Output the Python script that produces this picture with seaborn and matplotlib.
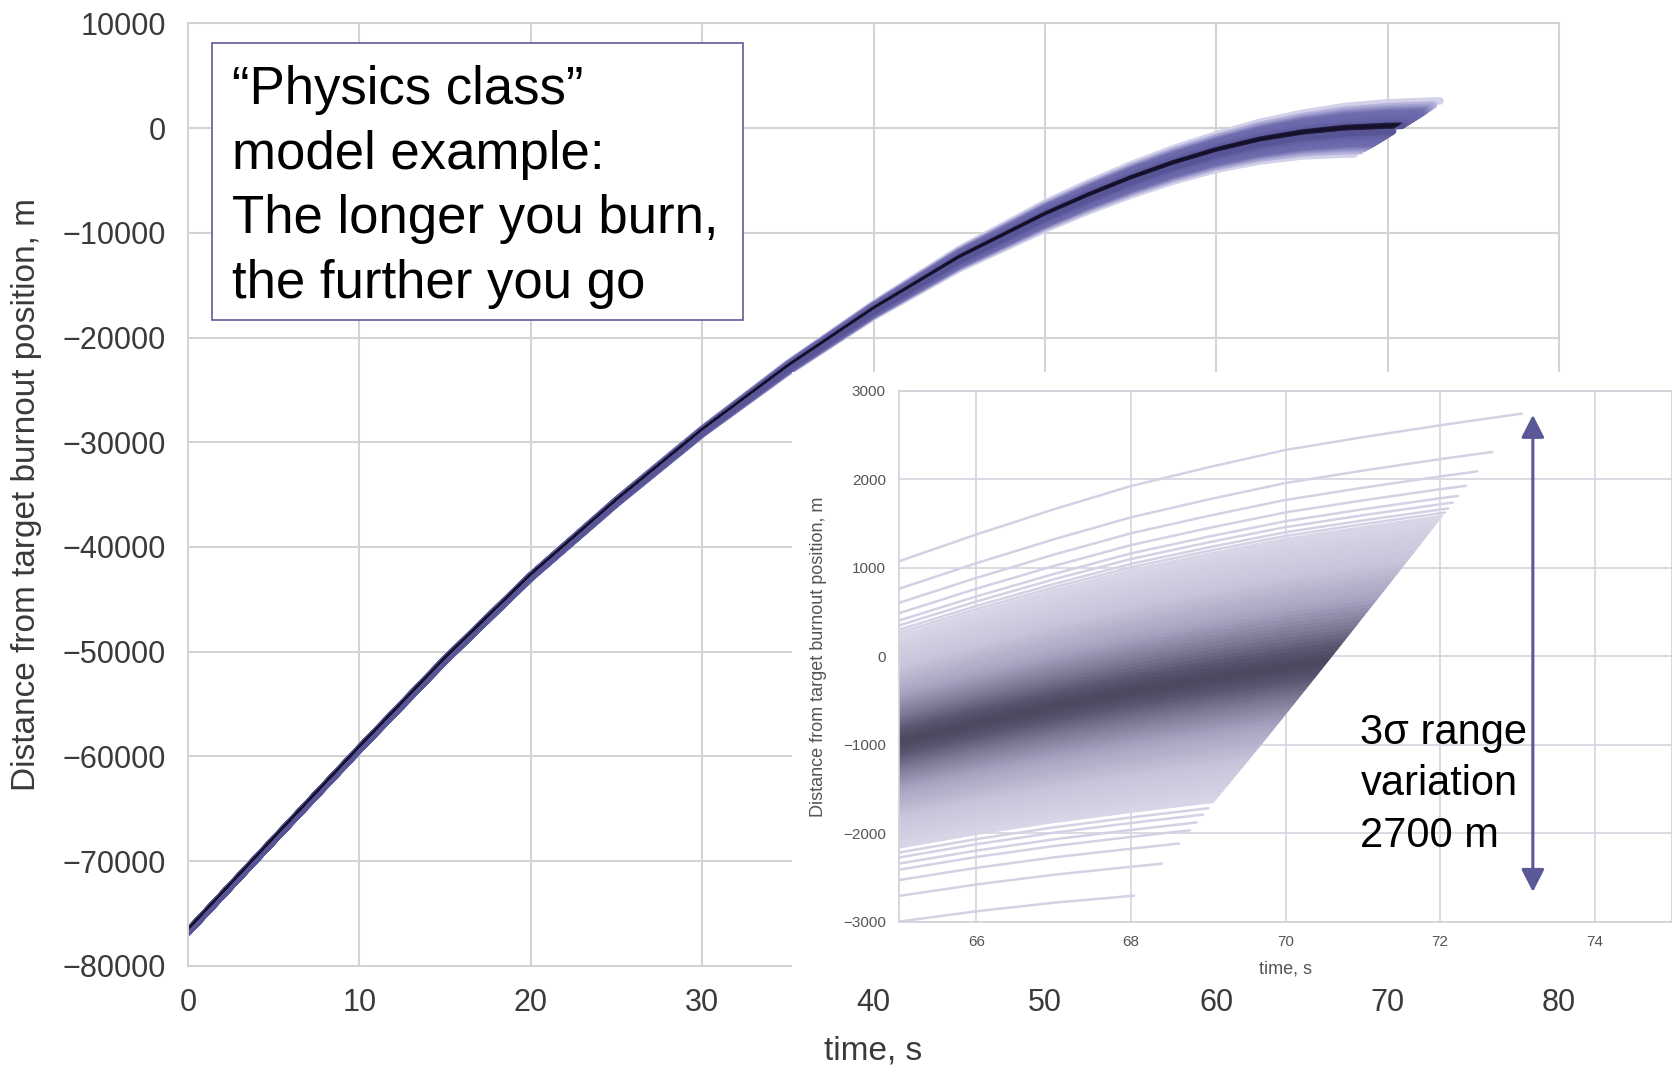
import numpy as np
import pandas as pd
import matplotlib
matplotlib.use("Agg")
import matplotlib.pyplot as plt
from matplotlib.colors import LinearSegmentedColormap
from matplotlib.patches import Rectangle
import seaborn as sns

# ---------------- data ----------------
# ensemble band centre in the main panel (distance from target burnout position, m)
mean_time = [0, 5, 10, 15, 20, 25, 30, 35, 40, 45, 50, 52.5, 55, 57.5,
             60, 62.5, 65, 67.5, 70, 72.5, 75]
mean_distance = [-76750, -68000, -59300, -50800, -42850, -35700, -28990, -22900,
                 -17400, -12500, -8400, -6600, -4950, -3500, -2280, -1300,
                 -620, -200, -20, 60, 100]
# the dark densest runs sit this far above the band centre in the main panel (m)
dense_core_offset = 250
# ensemble centre as read in the zoomed inset
inset_mean_time = [63, 64, 65, 66, 67, 68, 69, 70, 71, 72, 73, 74]
inset_mean_distance = [-1420, -1180, -960, -750, -560, -390, -245, -115, 0, 105, 200, 285]
# 1-sigma spread of the ensemble around the centre (m)
spread_time = [0, 10, 20, 30, 40, 50, 60, 65, 68, 70, 73, 75]
spread_sigma = [0, 15, 40, 85, 210, 420, 560, 690, 785, 830, 860, 870]
# burnout time of the nominal run and its 1-sigma variation (s)
burnout_time_nominal = 70.55
burnout_time_sigma = 0.85
# distinct outer Monte-Carlo runs (sigma position of each run)
outer_runs_z = [-2.95, -2.53, -2.27, -2.1, -2.0, -1.9, -1.82,
                1.78, 1.83, 1.9, 1.98, 2.1, 2.27, 2.5, 2.95]
# dense core of runs (sigma position of each run)
core_runs_z = [-1.75, -1.7, -1.65, -1.6, -1.55, -1.5, -1.45, -1.4, -1.35, -1.3,
               -1.25, -1.2, -1.15, -1.1, -1.05, -1.0, -0.95, -0.9, -0.85, -0.8,
               -0.75, -0.7, -0.65, -0.6, -0.55, -0.5, -0.45, -0.4, -0.35, -0.3,
               -0.25, -0.2, -0.15, -0.1, -0.05, 0.0, 0.05, 0.1, 0.15, 0.2,
               0.25, 0.3, 0.35, 0.4, 0.45, 0.5, 0.55, 0.6, 0.65, 0.7,
               0.75, 0.8, 0.85, 0.9, 0.95, 1.0, 1.05, 1.1, 1.15, 1.2,
               1.25, 1.3, 1.35, 1.4, 1.45, 1.5, 1.55, 1.6, 1.65, 1.7, 1.75]
main_xticks = [0, 10, 20, 30, 40, 50, 60, 70, 80]
main_yticks = [-80000, -70000, -60000, -50000, -40000, -30000, -20000, -10000, 0, 10000]
inset_xticks = [66, 68, 70, 72, 74]
inset_yticks = [-3000, -2000, -1000, 0, 1000, 2000, 3000]
range_arrow_time = 73.2
range_arrow_ends = [-2660, 2730]
box_text = "\u201cPhysics class\u201d\nmodel example:\nThe longer you burn,\nthe further you go"
range_text = "3\u03c3 range\nvariation\n2700 m"


def trajectory(z, m_time, m_dist):
    t_end = burnout_time_nominal + z * burnout_time_sigma
    t = np.array([x for x in m_time if x < t_end] + [t_end], float)
    d = np.interp(t, m_time, m_dist) + z * np.interp(t, spread_time, spread_sigma)
    return t, d


def minus(v):
    return str(v).replace('-', '\u2212')


def runs_frame(z_values, m_time, m_dist, offset=0.0):
    rows = []
    for run, z in enumerate(z_values):
        t, d = trajectory(z, m_time, m_dist)
        for ti, di in zip(t, d):
            rows.append((run, z, -abs(z), ti, di + offset))
    return pd.DataFrame(rows, columns=['run', 'z', 'key', 'time', 'distance'])


# ---------------- style ----------------
sns.set_theme(style="whitegrid")
plt.rcParams['font.family'] = ['Liberation Sans', 'DejaVu Sans']
plt.rcParams['axes.unicode_minus'] = True

fig = plt.figure(figsize=(16.72, 10.67), dpi=100)
fig.patch.set_facecolor('white')

# ---------------- main axes ----------------
ax = fig.add_axes([0.11244, 0.09494, 0.81998, 0.88304])

all_z = sorted(core_runs_z + outer_runs_z)
body = runs_frame([z for z in all_z if abs(z) >= 0.3], mean_time, mean_distance)
core = runs_frame([z for z in all_z if abs(z) < 0.3], mean_time, mean_distance,
                  offset=dense_core_offset)

main_cmap = LinearSegmentedColormap.from_list('main', [
    (0.0, '#d6d4ec'), (0.27, '#9e9ccd'), (0.47, '#6f6dae'), (0.73, '#6967a9'),
    (0.9, '#5f5ca1'), (0.917, '#231c3e'), (1.0, '#15102a')])

sns.lineplot(data=body, x='time', y='distance', units='run', estimator=None,
             hue='key', palette=main_cmap, hue_norm=(-3, 0), linewidth=5.4,
             sort=False, legend=False, ax=ax)
sns.lineplot(data=core, x='time', y='distance', units='run', estimator=None,
             hue='key', palette=main_cmap, hue_norm=(-3, 0), linewidth=1.2,
             sort=False, legend=False, ax=ax)

ax.set_xlim(0, 80)
ax.set_ylim(-80000, 10000)
ax.set_xticks(main_xticks)
ax.set_xticklabels([minus(v) for v in main_xticks])
ax.set_yticks(main_yticks)
ax.set_yticklabels([minus(v) for v in main_yticks])
ax.tick_params(axis='x', labelsize=22, colors='#3a3a3a', pad=16.3, length=0)
ax.tick_params(axis='y', labelsize=22, colors='#3a3a3a', pad=16, length=0)
ax.grid(True, color='#d3d3d3', linewidth=1.5)
for s in ax.spines.values():
    s.set_color('#d3d3d3')
    s.set_linewidth(1.5)
ax.set_xlabel('time, s', fontsize=24, color='#3a3a3a')
ax.set_ylabel('Distance from target burnout position, m', fontsize=24, color='#3a3a3a')
ax.xaxis.set_label_coords(0.5, -0.0736)
ax.yaxis.set_label_coords(-0.1065, 0.5)

# ---------------- white panel behind the inset ----------------
fig.add_artist(Rectangle((0.4737, 0.0787), 0.5263, 0.5726, transform=fig.transFigure,
                         facecolor='white', edgecolor='none', zorder=2))

# ---------------- inset axes ----------------
ax2 = fig.add_axes([0.53768, 0.13590, 0.46232, 0.49766], zorder=3)
ax2.set_facecolor('white')

inset_cmap = LinearSegmentedColormap.from_list('inset', [
    (0.0, '#4a465e'), (0.1, '#57536d'), (0.25, '#7c7995'), (0.45, '#a6a4c0'),
    (0.7, '#c6c5da'), (1.0, '#d8d7e8')])
core_sorted = sorted(core_runs_z)
for za, zb in zip(core_sorted[:-1], core_sorted[1:]):
    ta, da = trajectory(za, inset_mean_time, inset_mean_distance)
    tb, db = trajectory(zb, inset_mean_time, inset_mean_distance)
    xs = np.concatenate([tb, ta[::-1]])
    ys = np.concatenate([db, da[::-1]])
    col = inset_cmap(min(abs((za + zb) / 2) / 1.75, 1.0))
    ax2.fill(xs, ys, facecolor=col, edgecolor=col, linewidth=0.6, zorder=2)

outer = runs_frame(outer_runs_z, inset_mean_time, inset_mean_distance)
sns.lineplot(data=outer, x='time', y='distance', units='run', estimator=None,
             color='#d3d2e5', linewidth=1.8, sort=False, legend=False, ax=ax2, zorder=2)

ax2.set_xlim(65, 75)
ax2.set_ylim(-3000, 3000)
ax2.set_xticks(inset_xticks)
ax2.set_xticklabels([minus(v) for v in inset_xticks])
ax2.set_yticks(inset_yticks)
ax2.set_yticklabels([minus(v) for v in inset_yticks])
ax2.tick_params(axis='both', labelsize=11, colors='#555555', pad=9.4, length=0)
ax2.grid(True, color='#d4d4de', linewidth=1.2)
ax2.set_axisbelow(True)
for s in ax2.spines.values():
    s.set_color('#d0d0d8')
    s.set_linewidth(1.2)
ax2.set_xlabel('time, s', fontsize=13, color='#555555')
ax2.set_ylabel('Distance from target burnout position, m', fontsize=13, color='#555555')
ax2.xaxis.set_label_coords(0.5, -0.0716)
ax2.yaxis.set_label_coords(-0.093, 0.5)

ax2.annotate('', xy=(range_arrow_time, range_arrow_ends[1]),
             xytext=(range_arrow_time, range_arrow_ends[0]),
             arrowprops=dict(arrowstyle='<|-|>,head_length=0.55,head_width=0.28',
                             color='#5a5896', lw=2.2, mutation_scale=25,
                             shrinkA=0, shrinkB=0), zorder=5)
ax2.text(70.97, -1446, range_text, fontsize=30, ha='left', va='center',
         linespacing=1.358, color='black', zorder=6)

# ---------------- annotation box ----------------
fig.add_artist(Rectangle((0.1268, 0.7001), 0.3176, 0.2596, transform=fig.transFigure,
                         facecolor='white', edgecolor='#5e5c9c', linewidth=1.2, zorder=4))
fig.text(0.1388, 0.8246, box_text, fontsize=38, ha='left', va='center',
         linespacing=1.376, color='black', zorder=6)

fig.savefig('out.png', dpi=100)
